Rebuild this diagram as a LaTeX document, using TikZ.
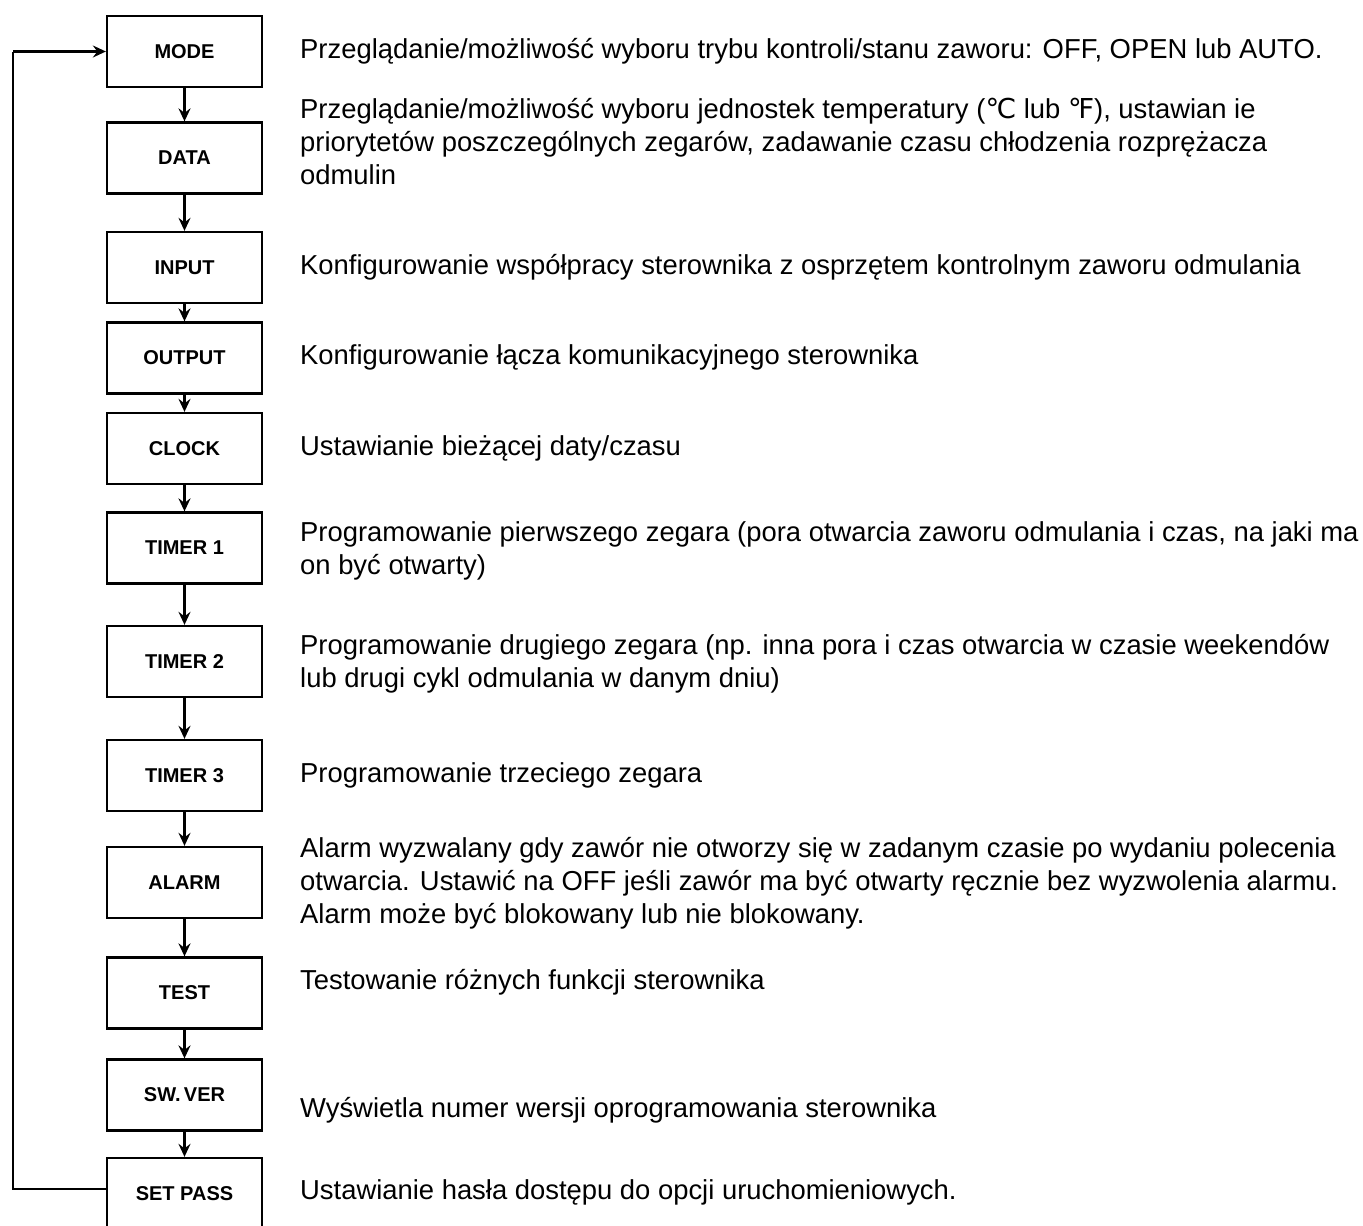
\documentclass[tikz,border=0pt]{standalone}
\usepackage{fontspec}
\setmainfont{Liberation Sans}
\newfontfamily\boxfont{Liberation Sans}
\newfontfamily\symfont{DejaVu Sans}
\usetikzlibrary{arrows.meta}
\begin{document}
\begin{tikzpicture}[x=1pt,y=-1pt,
  stepbox/.style={draw, line width=2.3pt, minimum width=155pt, minimum height=71pt,
    inner sep=0pt, font=\boxfont\bfseries\fontsize{20}{23}\selectfont},
  desc/.style={anchor=west, inner sep=0pt, align=left,
    font=\fontsize{27.4}{33}\selectfont},
  arr/.style={line width=2.1pt, -{Stealth[length=13pt,width=12pt,inset=4.5pt]}},
  link/.style={line width=2.1pt}]
\useasboundingbox (0,0) rectangle (1363,1226);
% boxes
\node[stepbox] (mode)   at (184.5,51.5)  {MODE};
\node[stepbox] (data)   at (184.5,158)   {DATA};
\node[stepbox] (input)  at (184.5,267.5) {INPUT};
\node[stepbox] (output) at (184.5,358)   {OUTPUT};
\node[stepbox] (clock)  at (184.5,448.5) {CLOCK};
\node[stepbox] (timer1) at (184.5,548)   {TIMER 1};
\node[stepbox] (timer2) at (184.5,661.5) {TIMER 2};
\node[stepbox] (timer3) at (184.5,775.5) {TIMER 3};
\node[stepbox] (alarm)  at (184.5,882.5) {ALARM};
\node[stepbox] (test)   at (184.5,993)   {TEST};
\node[stepbox] (swver)  at (184.5,1095)  {SW.\,VER};
\node[stepbox] (setpass) at (184.5,1193.5) {SET PASS};
% arrows
\draw[arr] (mode) -- (data);
\draw[arr] (data) -- (input);
\draw[arr] (input) -- (output);
\draw[arr] (output) -- (clock);
\draw[arr] (clock) -- (timer1);
\draw[arr] (timer1) -- (timer2);
\draw[arr] (timer2) -- (timer3);
\draw[arr] (timer3) -- (alarm);
\draw[arr] (alarm) -- (test);
\draw[arr] (test) -- (swver);
\draw[arr] (swver) -- (setpass);
\coordinate (lb) at (13,1189);
\coordinate (lt) at (13,51.5);
\draw[link] (setpass.west |- lb) -- (lb) -- (lt);
\draw[arr] (lt) -- (mode.west);
% descriptions
\node[desc] (dmode) at (300,51) {Przeglądanie/możliwość wyboru trybu kontroli/stanu zaworu: OFF, OPEN lub AUTO.};
\node[desc] (ddata) at (300,141.5) {Przeglądanie/możliwość wyboru jednostek temperatury ({\symfont ℃} lub {\symfont ℉}), ustawian\ ie\\priorytetów poszczególnych zegarów, zadawanie czasu chłodzenia rozprężacza\\odmulin};
\node[desc] (dinput) at (300,267) {Konfigurowanie współpracy sterownika z osprzętem kontrolnym zaworu odmulania};
\node[desc] (doutput) at (300,357) {Konfigurowanie łącza komunikacyjnego sterownika};
\node[desc] (dclock) at (300,448) {Ustawianie bieżącej daty/czasu};
\node[desc] (dtimer1) at (300,551) {Programowanie pierwszego zegara (pora otwarcia zaworu odmulania i czas, na jaki ma\\on być otwarty)};
\node[desc] (dtimer2) at (300,663.5) {Programowanie drugiego zegara (np. inna pora i czas otwarcia w czasie weekendów\\lub drugi cykl odmulania w danym dniu)};
\node[desc] (dtimer3) at (300,775) {Programowanie trzeciego zegara};
\node[desc] (dalarm) at (300,883) {Alarm wyzwalany gdy zawór nie otworzy się w zadanym czasie po wydaniu polecenia\\otwarcia. Ustawić na OFF jeśli zawór ma być otwarty ręcznie bez wyzwolenia alarmu.\\Alarm może być blokowany lub nie blokowany.};
\node[desc] (dtest) at (300,982) {Testowanie różnych funkcji sterownika};
\node[desc] (dswver) at (300,1110) {Wyświetla numer wersji oprogramowania sterownika};
\node[desc] (dsetpass) at (300,1192) {Ustawianie hasła dostępu do opcji uruchomieniowych.};
\end{tikzpicture}
\end{document}
